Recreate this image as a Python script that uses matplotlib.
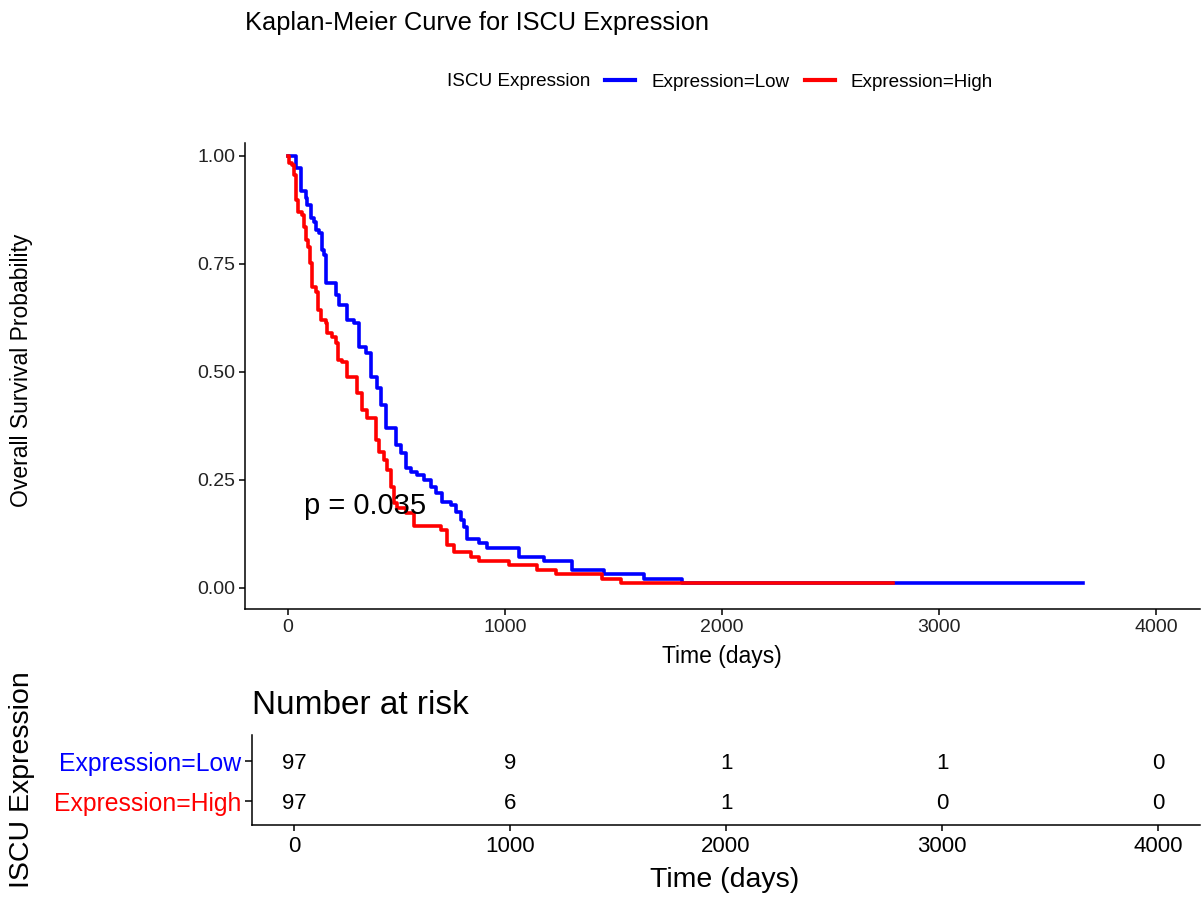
import numpy as np
import matplotlib
matplotlib.use('Agg')
import matplotlib.pyplot as plt
from matplotlib.lines import Line2D

plt.rcParams['font.family'] = ['Liberation Sans', 'DejaVu Sans']

# Kaplan-Meier steps (time in days, survival)
low_time = [0, 37, 60, 83, 88, 106, 120, 129, 143, 157, 166, 175, 221, 235, 272, 305, 328, 360,
            383, 411, 429, 452, 498, 521, 545, 568, 595, 628, 660, 683, 711, 752, 775, 798, 812,
            826, 881, 918, 1066, 1181, 1311, 1458, 1643, 1818, 3665]
low_surv = [1.0, 0.972, 0.919, 0.903, 0.887, 0.856, 0.847, 0.829, 0.822, 0.782, 0.771, 0.706,
            0.678, 0.655, 0.620, 0.613, 0.558, 0.544, 0.488, 0.463, 0.424, 0.370, 0.331, 0.313,
            0.278, 0.269, 0.262, 0.250, 0.234, 0.220, 0.199, 0.192, 0.176, 0.157, 0.141, 0.113,
            0.104, 0.093, 0.072, 0.062, 0.041, 0.031, 0.021, 0.0103, 0.0103]

high_time = [0, 5, 18, 28, 37, 46, 65, 74, 83, 92, 102, 111, 129, 138, 152, 175, 180, 203, 222,
             231, 249, 272, 318, 341, 365, 406, 420, 443, 457, 475, 489, 503, 545, 581, 706, 734,
             766, 845, 881, 1020, 1149, 1237, 1449, 1537, 2790]
high_surv = [1.0, 0.984, 0.979, 0.956, 0.898, 0.870, 0.863, 0.836, 0.806, 0.789, 0.752, 0.697,
             0.685, 0.644, 0.620, 0.613, 0.590, 0.581, 0.567, 0.528, 0.523, 0.488, 0.450, 0.412,
             0.394, 0.343, 0.315, 0.296, 0.273, 0.234, 0.197, 0.185, 0.174, 0.144, 0.134, 0.100,
             0.083, 0.072, 0.062, 0.052, 0.041, 0.031, 0.021, 0.0103, 0.0103]

groups = ['Expression=Low', 'Expression=High']
colors = ['blue', 'red']
risk_times = [0, 1000, 2000, 3000, 4000]
risk_low = [97, 9, 1, 1, 0]
risk_high = [97, 6, 1, 0, 0]
p_text = 'p = 0.035'

W, H = 1203, 900
fig = plt.figure(figsize=(W / 100, H / 100), dpi=100)


def box(l, t, r, b):
    return [l / W, 1 - b / H, (r - l) / W, (b - t) / H]


# main KM plot
ax = fig.add_axes(box(245, 143, 1200, 609))
ax.step(low_time, low_surv, where='post', color=colors[0], lw=2.6)
ax.step(high_time, high_surv, where='post', color=colors[1], lw=2.6)
ax.set_xlim(-198, 4203)
ax.set_ylim(-0.049, 1.03)
ax.set_xticks(risk_times)
ax.set_yticks([0, 0.25, 0.5, 0.75, 1.0])
ax.set_yticklabels(['0.00', '0.25', '0.50', '0.75', '1.00'])
ax.tick_params(labelsize=14, length=4, width=1.1, pad=3, colors='black', labelcolor='#222222')
for s in ['top', 'right']:
    ax.spines[s].set_visible(False)
for s in ['left', 'bottom']:
    ax.spines[s].set_linewidth(1.1)
ax.text(74, 0.19, p_text, fontsize=21, ha='left', va='center')

fig.text(22 / W, 1 - 370 / H, 'Overall Survival Probability', rotation=90,
         fontsize=16.5, ha='center', va='center')
fig.text(722 / W, 1 - 657 / H, 'Time (days)', fontsize=16.5, ha='center', va='center')
fig.text(245 / W, 1 - 23 / H, 'Kaplan-Meier Curve for ISCU Expression', fontsize=18.3,
         ha='left', va='center')

# legend on top
fig.text(447 / W, 1 - 81 / H, 'ISCU Expression', fontsize=13.6, ha='left', va='center')
handles = [Line2D([], [], color=c, lw=3) for c in colors]
fig.legend(handles, groups, loc='center left', bbox_to_anchor=(605 / W, 1 - 82 / H),
           ncol=2, frameon=False, fontsize=13.6, handlelength=1.6, handletextpad=0.85,
           columnspacing=0.8, borderpad=0, borderaxespad=0)

# risk table
rt = fig.add_axes(box(252, 735, 1200, 825))
rt.set_xlim(-194, 4194)
rt.set_ylim(0.4, 2.65)
for t, lo, hi in zip(risk_times, risk_low, risk_high):
    rt.text(t, 2, str(lo), fontsize=16, ha='center', va='center_baseline')
    rt.text(t, 1, str(hi), fontsize=16, ha='center', va='center_baseline')
rt.set_xticks(risk_times)
rt.set_yticks([2, 1])
rt.set_yticklabels(groups)
for lab, c in zip(rt.get_yticklabels(), colors):
    lab.set_color(c)
rt.tick_params(axis='y', labelsize=17.8, length=5, width=1.1, pad=3)
rt.tick_params(axis='x', labelsize=16, length=4, width=1.1, pad=4)
for s in ['top', 'right']:
    rt.spines[s].set_visible(False)
for s in ['left', 'bottom']:
    rt.spines[s].set_linewidth(1.1)

fig.text(252 / W, 1 - 705 / H, 'Number at risk', fontsize=24, ha='left', va='center')
fig.text(22 / W, 1 - 780 / H, 'ISCU Expression', rotation=90, fontsize=20.5,
         ha='center', va='center')
fig.text(725 / W, 1 - 880 / H, 'Time (days)', fontsize=20.5, ha='center', va='center')

fig.savefig('out.png', dpi=100)
